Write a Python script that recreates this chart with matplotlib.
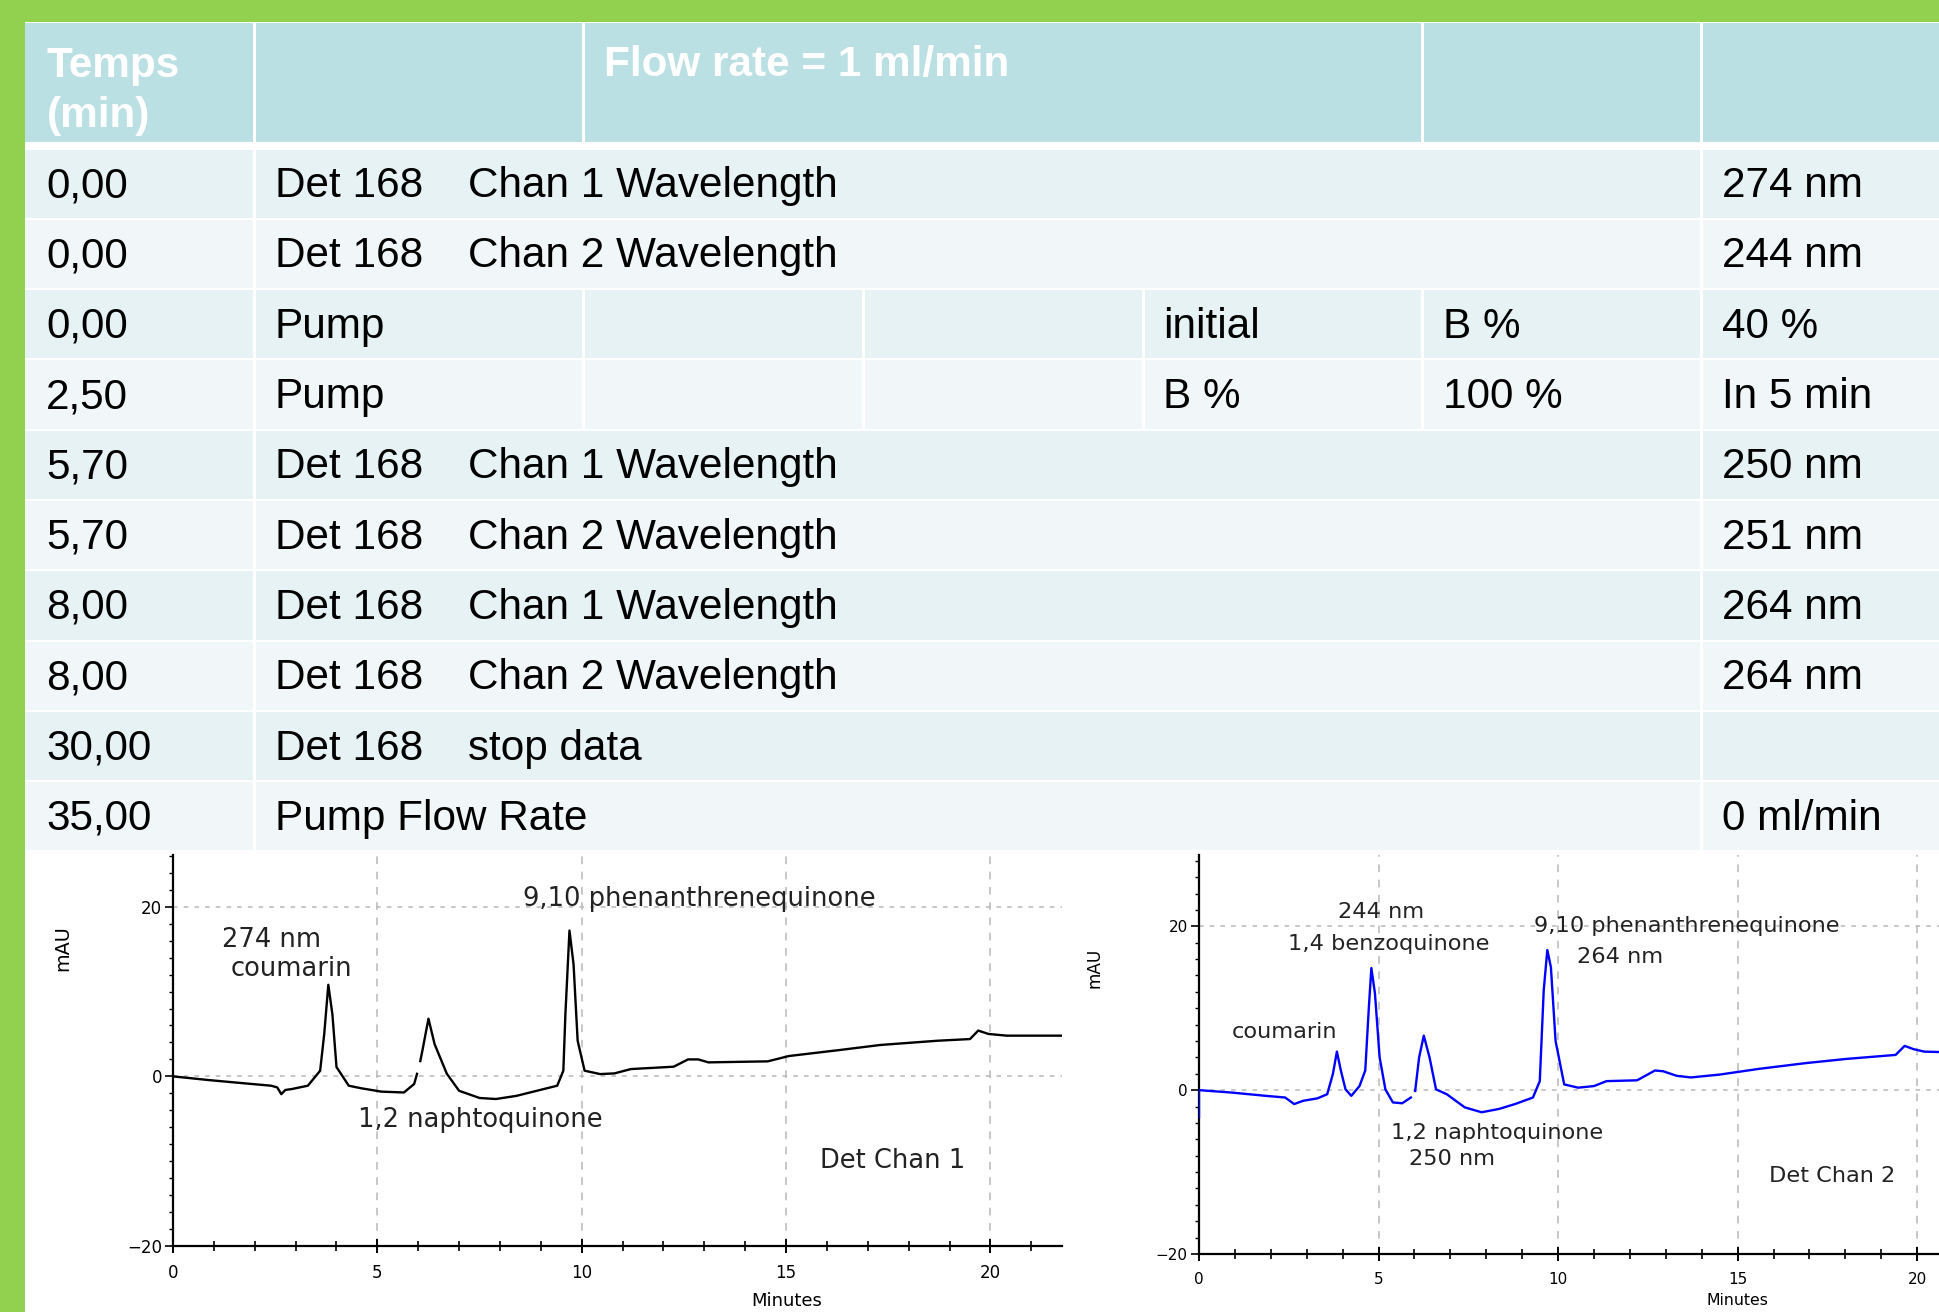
import numpy as np
import matplotlib

matplotlib.use("Agg")
import matplotlib.pyplot as plt
from matplotlib.patches import Rectangle
from matplotlib.ticker import MultipleLocator

W, H = 1940, 1312
nan = np.nan

# ---- method table -------------------------------------------------------
header_time = "Temps\n(min)"
header_flow = "Flow rate = 1 ml/min"
times = ["0,00", "0,00", "0,00", "2,50", "5,70", "5,70", "8,00", "8,00",
         "30,00", "35,00"]
devices = ["Det 168", "Det 168", "Pump", "Pump", "Det 168", "Det 168",
           "Det 168", "Det 168", "Det 168", "Pump Flow Rate"]
actions = ["Chan 1 Wavelength", "Chan 2 Wavelength", "", "",
           "Chan 1 Wavelength", "Chan 2 Wavelength", "Chan 1 Wavelength",
           "Chan 2 Wavelength", "stop data", ""]
pump_a = ["", "", "initial", "B %", "", "", "", "", "", ""]
pump_b = ["", "", "B %", "100 %", "", "", "", "", "", ""]
settings = ["274 nm", "244 nm", "40 %", "In 5 min", "250 nm", "251 nm",
            "264 nm", "264 nm", "", "0 ml/min"]

# ---- chromatograms (minutes, mAU) ----------------------------------------
ch1_t = [0.0, 0.86, 1.7, 2.4, 2.55, 2.65, 2.75, 2.9, 3.3, 3.6,
         3.7, 3.8, 3.9, 4.0, 4.3, 4.6, 5.1, 5.65, 5.9, 5.97,
         nan, 6.05, 6.1, 6.25, 6.4, 6.7, 7.0, 7.5, 7.9, 8.4,
         8.9, 9.4, 9.55, 9.6, 9.7, 9.8, 9.9, 10.07, 10.45, 10.8,
         11.2, 12.25, 12.6, 12.85, 13.1, 14.55, 15.07, 16.3, 17.3, 18.7,
         19.5, 19.7, 19.95, 20.4, 21.75]
ch1_y = [0.0, -0.43, -0.8, -1.1, -1.3, -2.1, -1.6, -1.5, -1.1, 0.67,
         5.0, 10.8, 7.3, 1.1, -1.1, -1.4, -1.8, -1.9, -0.9, 0.3,
         nan, 1.8, 3.0, 6.8, 3.8, 0.3, -1.7, -2.55, -2.67, -2.3,
         -1.7, -1.1, 0.67, 7.3, 17.2, 13.2, 4.2, 0.67, 0.27, 0.35,
         0.86, 1.14, 2.0, 2.0, 1.65, 1.77, 2.4, 3.1, 3.7, 4.2,
         4.4, 5.4, 5.0, 4.8, 4.8]

ch2_t = [0.0, 0.0, 0.92, 1.87, 2.4, 2.65, 2.9, 3.3, 3.57, 3.73,
         3.84, 3.95, 4.08, 4.24, 4.47, 4.63, 4.73, 4.8, 4.9, 5.03,
         5.19, 5.4, 5.66, 5.9, nan, 6.02, 6.13, 6.26, 6.42, 6.6,
         6.9, 7.4, 7.87, 8.35, 8.8, 9.3, 9.49, 9.6, 9.7, 9.8,
         9.93, 10.17, 10.56, 11.0, 11.35, 12.2, 12.7, 12.93, 13.3, 13.7,
         14.5, 15.6, 16.9, 18.0, 19.4, 19.65, 19.9, 20.2, 20.65, 22.0]
ch2_y = [-3.3, 0.0, -0.3, -0.7, -0.9, -1.7, -1.3, -1.0, -0.5, 2.0,
         4.7, 2.4, 0.1, -0.7, 0.5, 2.4, 10.1, 14.9, 11.8, 4.0,
         0.1, -1.5, -1.6, -0.9, nan, -0.1, 4.0, 6.65, 4.0, 0.1,
         -0.5, -2.1, -2.7, -2.3, -1.7, -0.9, 1.1, 12.2, 17.1, 15.0,
         6.0, 0.7, 0.3, 0.5, 1.1, 1.2, 2.4, 2.3, 1.75, 1.55,
         1.9, 2.6, 3.3, 3.8, 4.3, 5.4, 5.0, 4.7, 4.65, 4.6]

ch1_notes = ["274 nm", "coumarin", "9,10 phenanthrenequinone",
             "1,2 naphtoquinone", "Det Chan 1"]
ch1_note_xy = [(2.41, 16.1), (2.89, 12.7), (12.88, 20.9), (7.52, -5.2),
               (17.6, -10.0)]
ch2_notes = ["244 nm", "1,4 benzoquinone", "9,10 phenanthrenequinone",
             "264 nm", "coumarin", "1,2 naphtoquinone", "250 nm",
             "Det Chan 2"]
ch2_note_xy = [(5.07, 21.8), (5.29, 17.8), (13.59, 20.0), (11.73, 16.2),
               (2.37, 7.1), (8.30, -5.2), (7.05, -8.4), (17.63, -10.5)]

GREEN = "#92d050"
HEAD = "#bbe0e3"
ROW_A = "#e6f2f4"
ROW_B = "#f1f7f9"
TABLE_FONT = "Liberation Sans"
TABLE_FS = 30.4

fig = plt.figure(figsize=(W / 100, H / 100), dpi=100, facecolor=GREEN)

# background axes in pixel coordinates (y downwards)
bg = fig.add_axes([0, 0, 1, 1])
bg.set_xlim(0, W)
bg.set_ylim(H, 0)
bg.axis("off")

left = 25
col_x = [25, 255, 584, 864, 1144, 1423, 1702, W + 20]
bg.add_patch(Rectangle((left, 22), W - left, H - 22, color="white", lw=0))

# header
bg.add_patch(Rectangle((left, 23), W - left, 119, color=HEAD, lw=0))
for cx in [255, 584, 1423, 1702]:
    bg.add_patch(Rectangle((cx - 1.5, 23), 3, 119, color="white", lw=0))
bg.text(47, 91, header_time, fontsize=TABLE_FS, fontweight="bold",
        color="white", family=TABLE_FONT, va="center", ha="left",
        linespacing=1.32)
bg.text(604, 65, header_flow, fontsize=TABLE_FS, fontweight="bold",
        color="white", family=TABLE_FONT, va="center", ha="left")

# body rows
row_top, row_h = 148.5, 70.3
for i in range(len(times)):
    top = row_top + i * row_h
    bg.add_patch(Rectangle((left, top + 1), W - left, row_h - 2,
                           color=ROW_A if i % 2 == 0 else ROW_B, lw=0))
    pump_row = devices[i] == "Pump"
    seps = col_x[1:-1] if pump_row else [255, 1702]
    for cx in seps:
        bg.add_patch(Rectangle((cx - 1.5, top), 3, row_h, color="white", lw=0))
    yc = top + row_h / 2 + 2.5
    kw = dict(fontsize=TABLE_FS, family=TABLE_FONT, color="black",
              va="center", ha="left")
    bg.text(46, yc, times[i], **kw)
    bg.text(275, yc, devices[i], **kw)
    if actions[i]:
        bg.text(468, yc, actions[i], **kw)
    if pump_a[i]:
        bg.text(1163, yc, pump_a[i], **kw)
    if pump_b[i]:
        bg.text(1443, yc, pump_b[i], **kw)
    if settings[i]:
        bg.text(1722, yc, settings[i], **kw)


def chromatogram(rect, t, y, color, xmax, ymax, notes, note_xy, fs, tfs,
                 mau_xy, minutes_xy):
    ax = fig.add_axes(rect)
    ax.patch.set_visible(False)
    ax.plot(t, y, color=color, lw=1.7, zorder=3)
    ax.set_xlim(0, xmax)
    ax.set_ylim(-20, ymax)
    for s in ["top", "right"]:
        ax.spines[s].set_visible(False)
    for s in ["left", "bottom"]:
        ax.spines[s].set_linewidth(1.6)
    ax.xaxis.set_major_locator(MultipleLocator(5))
    ax.xaxis.set_minor_locator(MultipleLocator(1))
    ax.yaxis.set_major_locator(MultipleLocator(20))
    ax.yaxis.set_minor_locator(MultipleLocator(2))
    ax.tick_params(axis="x", which="major", direction="inout", length=10,
                   width=1.4, labelsize=tfs, pad=8)
    ax.tick_params(axis="x", which="minor", direction="inout", length=7,
                   width=1.2)
    ax.tick_params(axis="y", which="major", direction="out", length=6,
                   width=1.2, labelsize=tfs, pad=2)
    ax.tick_params(axis="y", which="minor", direction="out", length=3,
                   width=1.0)
    ax.xaxis.grid(True, which="major", color="#b8b8b8", lw=1.1,
                  ls=(0, (5, 5)), zorder=1)
    ax.yaxis.grid(True, which="major", color="#b8b8b8", lw=1.1,
                  ls=(0, (3, 4)), zorder=1)
    for txt, (nx, ny) in zip(notes, note_xy):
        ax.text(nx, ny, txt, fontsize=fs, color="#222222", ha="center",
                va="center", zorder=4)
    ax.set_ylabel("mAU", fontsize=fs * 0.75, rotation=90, va="center")
    ax.yaxis.set_label_coords(*mau_xy)
    ax.set_xlabel("Minutes", fontsize=fs * 0.7, va="top")
    ax.xaxis.set_label_coords(*minutes_xy)
    return ax


chromatogram([173 / W, 1 - 1246 / H, (1062 - 173) / W, (1246 - 855) / H],
             ch1_t, ch1_y, "black", 21.75, 26.1, ch1_notes, ch1_note_xy,
             18.5, 12, (-0.124, 0.762), (0.69, -0.118))
chromatogram([1199 / W, 1 - 1254 / H, 790 / W, (1254 - 855) / H],
             ch2_t, ch2_y, "#0000ff", 22.0, 28.7, ch2_notes, ch2_note_xy,
             16.2, 11, (-0.132, 0.717), (0.681, -0.097))

fig.savefig("out.png", dpi=100, facecolor=GREEN)
